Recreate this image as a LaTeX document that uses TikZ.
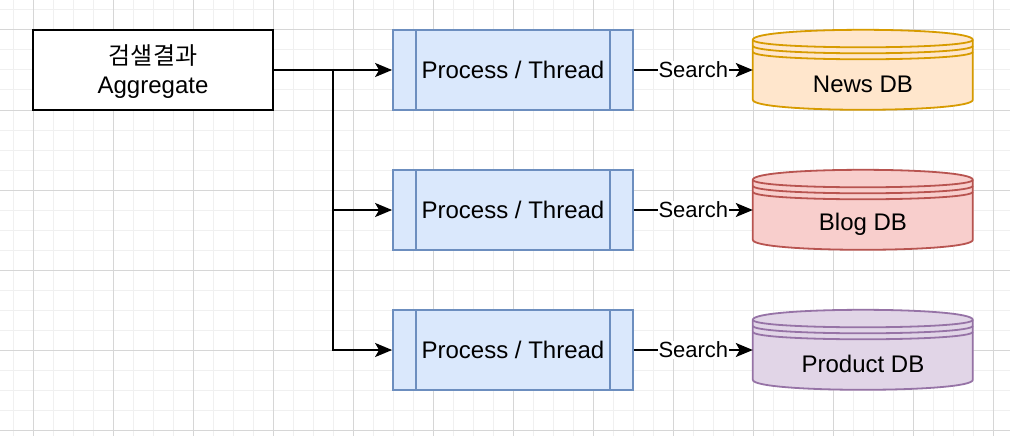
\documentclass[tikz,border=0pt]{standalone}
\usepackage{fontspec}
\setmainfont{Liberation Sans}
\newfontfamily\krfont{Noto Sans CJK KR}
\usetikzlibrary{arrows.meta,calc}
\definecolor{gridminor}{HTML}{F0F0F0}
\definecolor{gridmajor}{HTML}{D6D6D6}
\definecolor{procfill}{HTML}{DAE8FC}
\definecolor{procdraw}{HTML}{6C8EBF}
\definecolor{newsfill}{HTML}{FFE6CC}
\definecolor{newsdraw}{HTML}{D79B00}
\definecolor{blogfill}{HTML}{F8CECC}
\definecolor{blogdraw}{HTML}{B85450}
\definecolor{prodfill}{HTML}{E1D5E7}
\definecolor{proddraw}{HTML}{9673A6}
\tikzset{
  gminor/.style={draw=gridminor, line width=1pt},
  gmajor/.style={draw=gridmajor, line width=1pt},
  aggbox/.style={draw=black, fill=white, line width=2pt, minimum width=240pt, minimum height=80pt, inner sep=0pt, align=center, font=\fontsize{24}{29}\selectfont},
  procbox/.style={draw=procdraw, fill=procfill, line width=1.8pt, minimum width=240pt, minimum height=80pt, inner sep=0pt, font=\fontsize{24}{28}\selectfont},
  procside/.style={draw=procdraw, line width=1.8pt},
  dbarea/.style={minimum width=220pt, minimum height=80pt, inner sep=0pt},
  dbtext/.style={inner sep=0pt, font=\fontsize{24}{28}\selectfont},
  conn/.style={draw=black, line width=2pt},
  arr/.style={conn, -{Stealth[length=17pt,width=14pt,inset=4pt]}},
  searchlbl/.style={fill=white, inner sep=1pt, font=\fontsize{22}{26}\selectfont},
}
\newcommand{\dbshape}[3]{%
  \begin{scope}[shift={(#1.north west)}]
    \path[fill=#2] (0,10) .. controls (0,-3.33) and (220,-3.33) .. (220,10)
      -- (220,70) .. controls (220,83.33) and (0,83.33) .. (0,70) -- cycle;
    \draw[draw=#3, line width=1.8pt, line join=round] (0,10) .. controls (0,-3.33) and (220,-3.33) .. (220,10)
      -- (220,70) .. controls (220,83.33) and (0,83.33) .. (0,70) -- cycle;
    \draw[draw=#3, line width=1.8pt] (0,10) .. controls (0,20) and (220,20) .. (220,10);
    \draw[draw=#3, line width=1.8pt] (0,16) .. controls (0,26) and (220,26) .. (220,16);
    \draw[draw=#3, line width=1.8pt] (0,22) .. controls (0,32) and (220,32) .. (220,22);
  \end{scope}}
\begin{document}
\begin{tikzpicture}[x=1pt,y=-1pt]
\useasboundingbox (0,0) rectangle (1010,436);
\fill[white] (0,0) rectangle (1010,436);
% grid
\foreach \gx in {13,33,...,1010} {\draw[gminor] (\gx,0) -- (\gx,436);}
\foreach \gy in {10,30,...,436} {\draw[gminor] (0,\gy) -- (1010,\gy);}
\foreach \gx in {33,113,...,1010} {\draw[gmajor] (\gx,0) -- (\gx,436);}
\foreach \gy in {30,110,...,436} {\draw[gmajor] (0,\gy) -- (1010,\gy);}
% aggregate
\node[aggbox] (agg) at (153,70) {};
\node[align=center, inner sep=0pt, font=\fontsize{24}{29}\selectfont] (aggt) at ($(agg.center)+(0,2)$) {{\krfont 검샐결과}\\Aggregate};
% processes
\foreach \n/\yy in {p1/70,p2/210,p3/350} {
  \node[procbox] (\n) at (513,\yy) {Process / Thread};
  \draw[procside] ($(\n.north west)+(24,0)$) -- ($(\n.south west)+(24,0)$);
  \draw[procside] ($(\n.north east)+(-24,0)$) -- ($(\n.south east)+(-24,0)$);
}
% databases
\node[dbarea] (db1) at (863,70) {};
\node[dbarea] (db2) at (863,210) {};
\node[dbarea] (db3) at (863,350) {};
\dbshape{db1}{newsfill}{newsdraw}
\dbshape{db2}{blogfill}{blogdraw}
\dbshape{db3}{prodfill}{proddraw}
\node[dbtext] (db1t) at ($(db1.center)+(0,14)$) {News DB};
\node[dbtext] (db2t) at ($(db2.center)+(0,14)$) {Blog DB};
\node[dbtext] (db3t) at ($(db3.center)+(0,14)$) {Product DB};
% connectors
\coordinate (br) at (333,70);
\draw[arr] (agg.east) -- (p1.west);
\draw[arr] (br) |- (p2.west);
\draw[arr] (br) |- (p3.west);
\draw[arr] (p1.east) -- node[searchlbl] {Search} (db1.west);
\draw[arr] (p2.east) -- node[searchlbl] {Search} (db2.west);
\draw[arr] (p3.east) -- node[searchlbl] {Search} (db3.west);
\end{tikzpicture}
\end{document}
